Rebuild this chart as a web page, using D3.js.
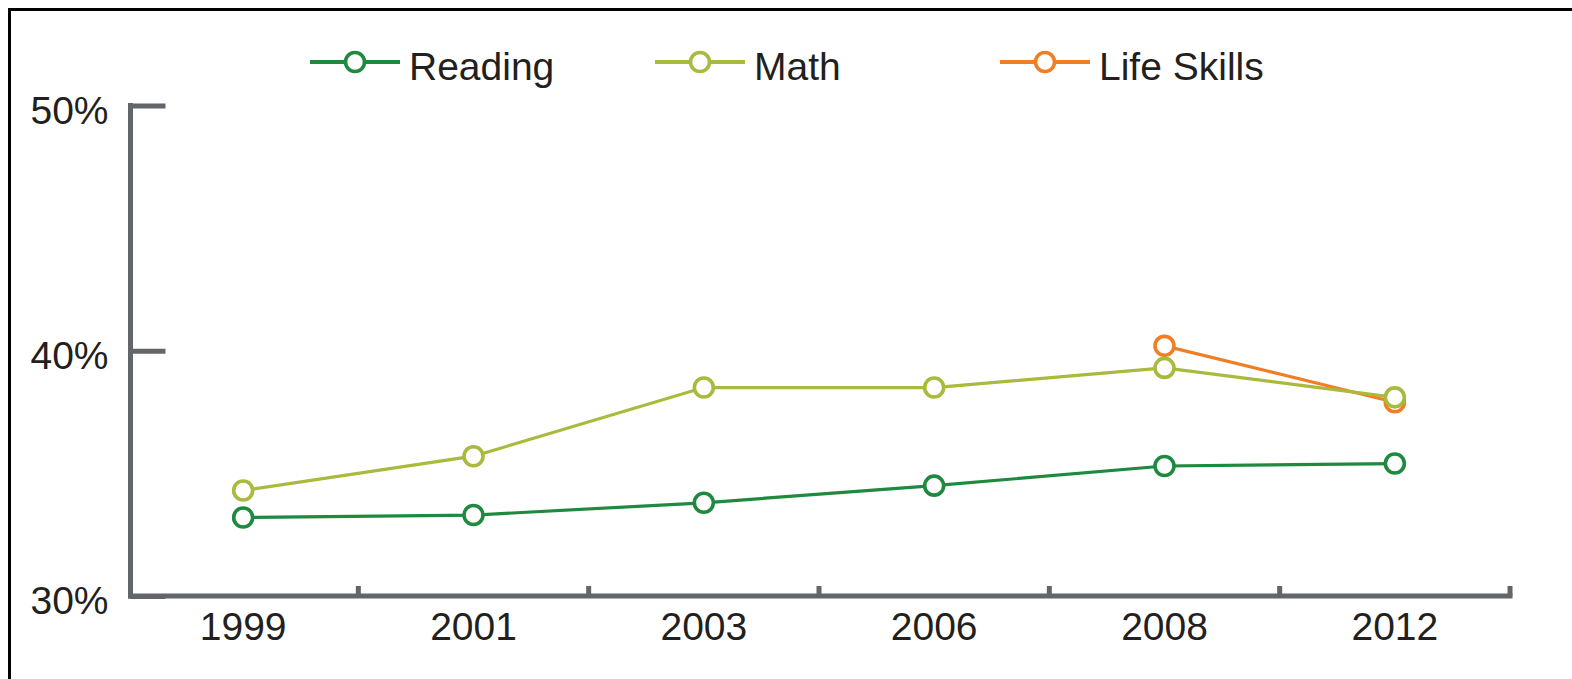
<!DOCTYPE html>
<html>
<head>
<meta charset="utf-8">
<script src="https://cdn.jsdelivr.net/npm/d3@7"></script>
<style>
  html, body { margin: 0; padding: 0; background: #fff; }
  svg { display: block; }
  text { font-family: "Liberation Sans", Arial, sans-serif; fill: #231f20; }
</style>
</head>
<body>
<svg id="chart" width="1572" height="679"></svg>
<script>
const years = ["1999", "2001", "2003", "2006", "2008", "2012"];
const readingValues = [33.2, 33.3, 33.8, 34.5, 35.3, 35.4];
const mathValues = [34.3, 35.7, 38.5, 38.5, 39.3, 38.1];
const lifeSkillsYears = ["2008", "2012"];
const lifeSkillsValues = [40.2, 37.9];
const yTicks = [30, 40, 50];
const seriesNames = ["Reading", "Math", "Life Skills"];
const seriesColors = ["#1d8a3f", "#a9ba3c", "#f07e24"];

const svg = d3.select("#chart");
const axisColor = "#626569";

// frame
svg.append("path")
  .attr("d", "M9.5,679 V9.5 H1572")
  .attr("fill", "none").attr("stroke", "#000").attr("stroke-width", 3);

const x = d3.scaleBand().domain(years).range([128, 1510]).padding(0);
const y = d3.scaleLinear().domain([30, 50]).range([596, 105.5]);

// Y axis
const yAxis = d3.axisLeft(y).tickValues(yTicks).tickSizeInner(-35).tickSizeOuter(0)
  .tickPadding(22).tickFormat(d => d + "%");
const yg = svg.append("g").attr("transform", "translate(130.5,0)").call(yAxis);
yg.select(".domain").remove();
yg.selectAll(".tick line").attr("stroke", axisColor).attr("stroke-width", 5);
yg.selectAll(".tick text").attr("font-size", 39).attr("dy", "0.45em")
  .style("font-family", "'Liberation Sans', Arial, sans-serif").attr("fill", "#231f20");
svg.append("line").attr("x1", 130.5).attr("x2", 130.5).attr("y1", 103).attr("y2", 598.5)
  .attr("stroke", axisColor).attr("stroke-width", 5);

// X axis
const xAxis = d3.axisBottom(x).tickSize(0).tickPadding(0);
const xg = svg.append("g").attr("transform", "translate(0,596)").call(xAxis);
xg.select(".domain").remove();
xg.selectAll(".tick text").attr("font-size", 39).attr("y", 44).attr("dy", 0)
  .style("font-family", "'Liberation Sans', Arial, sans-serif").attr("fill", "#231f20");
svg.append("line").attr("x1", 128).attr("x2", 1512.5).attr("y1", 596).attr("y2", 596)
  .attr("stroke", axisColor).attr("stroke-width", 5);
svg.append("g").selectAll("line").data(years).join("line")
  .attr("x1", d => x(d) + x.bandwidth()).attr("x2", d => x(d) + x.bandwidth())
  .attr("y1", 596).attr("y2", 586)
  .attr("stroke", axisColor).attr("stroke-width", 5);

// Series
const series = [
  { name: seriesNames[2], color: seriesColors[2], pts: lifeSkillsYears.map((yr, i) => [yr, lifeSkillsValues[i]]) },
  { name: seriesNames[1], color: seriesColors[1], pts: years.map((yr, i) => [yr, mathValues[i]]) },
  { name: seriesNames[0], color: seriesColors[0], pts: years.map((yr, i) => [yr, readingValues[i]]) }
];
const line = d3.line().x(d => x(d[0]) + x.bandwidth() / 2).y(d => y(d[1]));
series.forEach(s => {
  const g = svg.append("g");
  g.append("path").attr("d", line(s.pts)).attr("fill", "none")
    .attr("stroke", s.color).attr("stroke-width", 3.2);
  g.selectAll("circle").data(s.pts).join("circle")
    .attr("cx", d => x(d[0]) + x.bandwidth() / 2).attr("cy", d => y(d[1]))
    .attr("r", 9.5).attr("fill", "#fff").attr("stroke", s.color).attr("stroke-width", 3.6);
});

// Legend
const legendX = [310, 655, 1000];
const lg = svg.append("g");
seriesNames.forEach((n, i) => {
  const g = lg.append("g").attr("transform", `translate(${legendX[i]},62)`);
  g.append("line").attr("x1", 0).attr("x2", 90).attr("y1", 0).attr("y2", 0)
    .attr("stroke", seriesColors[i]).attr("stroke-width", 4);
  g.append("circle").attr("cx", 45).attr("cy", 0).attr("r", 9.5).attr("fill", "#fff")
    .attr("stroke", seriesColors[i]).attr("stroke-width", 3.6);
  g.append("text").attr("x", 99).attr("y", 18).attr("font-size", 39).text(n);
});
</script>
</body>
</html>
